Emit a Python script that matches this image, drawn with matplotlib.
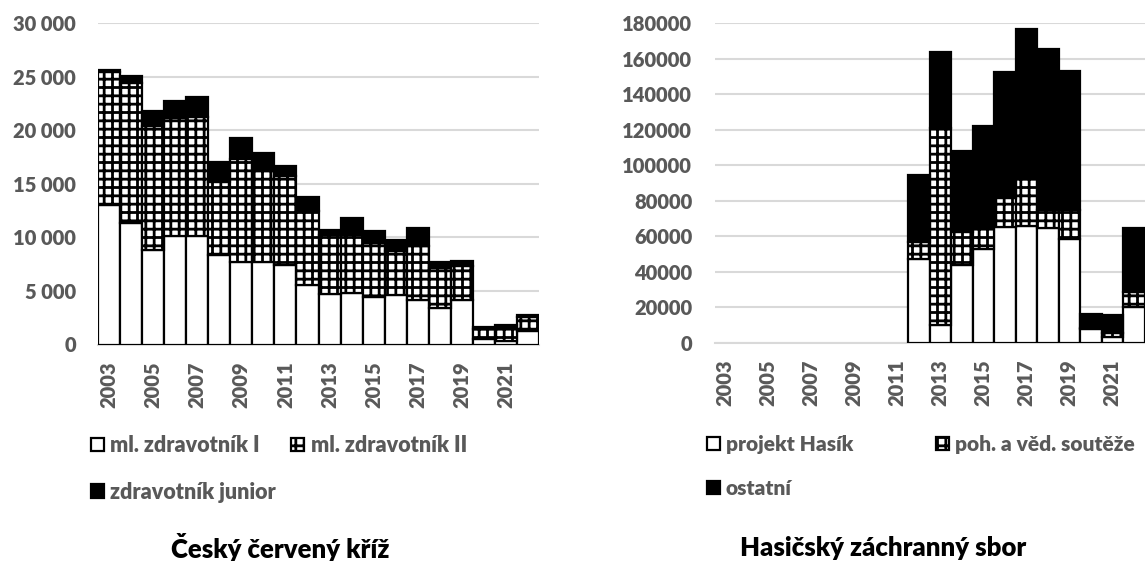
import numpy as np
import matplotlib
matplotlib.use('Agg')
import matplotlib.pyplot as plt
from matplotlib.patches import Patch
from matplotlib.ticker import FuncFormatter

plt.rcParams['font.family'] = ['Lato', 'DejaVu Sans']
plt.rcParams['font.weight'] = 'heavy'
plt.rcParams['hatch.linewidth'] = 2.0
plt.rcParams['hatch.color'] = 'black'

years = list(range(2003, 2023))

# Cesky cerveny kriz
ml_zdrav_1 = [13000, 11300, 8800, 10150, 10100, 8400, 7700, 7700, 7400, 5550,
              4700, 4850, 4450, 4600, 4150, 3400, 4150, 550, 350, 1250]
ml_zdrav_2 = [12400, 13100, 11600, 10950, 11150, 6800, 9600, 8450, 8300, 6950,
              5500, 5350, 5000, 4150, 5050, 3700, 3200, 900, 1300, 1350]
zdrav_junior = [200, 700, 1350, 1650, 1850, 1850, 1950, 1700, 950, 1250,
                480, 1600, 1150, 1000, 1700, 600, 400, 200, 150, 150]

# Hasicsky zachranny sbor
hasik = [0, 0, 0, 0, 0, 0, 0, 0, 0, 47000,
         10000, 44000, 52700, 65000, 66000, 64500, 58500, 7800, 3100, 20000]
souteze = [0, 0, 0, 0, 0, 0, 0, 0, 0, 10000,
           110800, 18600, 12400, 16400, 26100, 10300, 16300, 500, 2250, 8800]
ostatni = [0, 0, 0, 0, 0, 0, 0, 0, 0, 37500,
           43200, 45600, 57000, 71300, 84700, 90700, 78500, 7800, 10300, 36000]

GRAY = '#595959'
GRID = '#d9d9d9'
W, H = 1145, 561
LW = 1.6
WEIGHT = 'heavy'


def stacked(ax, series, ymax, step, fmt):
    x = np.arange(len(years))
    bottom = np.zeros(len(years))
    styles = [dict(color='white', hatch=None),
              dict(color='white', hatch='++'),
              dict(color='black', hatch=None)]
    for vals, st in zip(series, styles):
        vals = np.array(vals, dtype=float)
        lws = [LW if v > 0 else 0 for v in vals]
        ax.bar(x, vals, width=1.0, bottom=bottom, facecolor=st['color'],
               edgecolor='black', hatch=st['hatch'], linewidth=lws, zorder=3)
        bottom += vals
    ax.set_xlim(-0.5, len(years) - 0.5)
    ax.set_ylim(0, ymax)
    ax.set_yticks(np.arange(0, ymax + 1, step))
    ax.yaxis.set_major_formatter(FuncFormatter(fmt))
    ax.set_xticks(x[::2])
    ax.set_xticklabels([str(y) for y in years[::2]], rotation=90,
                       fontweight=WEIGHT)
    ax.grid(axis='y', color=GRID, linewidth=1.5, zorder=0)
    for s in ['top', 'right', 'left']:
        ax.spines[s].set_visible(False)
    ax.spines['bottom'].set_color(GRID)
    ax.spines['bottom'].set_linewidth(1.5)
    ax.tick_params(length=0, labelcolor=GRAY, labelsize=14.5)
    ax.tick_params(axis='y', pad=16)
    ax.tick_params(axis='x', pad=12)


fig = plt.figure(figsize=(W / 100, H / 100), dpi=100)

ax1 = fig.add_axes([98 / W, 1 - 344.5 / H, 441 / W, 321.4 / H])
stacked(ax1, [ml_zdrav_1, ml_zdrav_2, zdrav_junior], 30000, 5000,
        lambda v, p: f'{int(v):,}'.replace(',', ' '))

ax2 = fig.add_axes([714.5 / W, 1 - 342.8 / H, 430 / W, 319.5 / H])
stacked(ax2, [hasik, souteze, ostatni], 180000, 20000,
        lambda v, p: f'{int(v)}')


def legend(labels, anchor, colsp, size):
    handles = [Patch(facecolor='white', edgecolor='black', lw=LW),
               Patch(facecolor='black', edgecolor='black', lw=LW),
               Patch(facecolor='white', edgecolor='black', hatch='++', lw=LW)]
    # row-major order like the original: first, third / second
    labs = [labels[0], labels[2], labels[1]]
    leg = fig.legend(handles, labs, loc='upper left',
                     bbox_to_anchor=(anchor[0] / W, 1 - anchor[1] / H),
                     ncol=2, frameon=False, borderpad=0, borderaxespad=0,
                     handlelength=0.6, handleheight=0.6, handletextpad=0.3,
                     labelspacing=1.2, columnspacing=colsp,
                     prop=dict(weight=WEIGHT, size=size))
    for t in leg.get_texts():
        t.set_color(GRAY)


legend(['ml. zdravotník I', 'ml. zdravotník II', 'zdravotník junior'],
       (91, 435), 0.7, 15.5)
legend(['projekt Hasík', 'poh. a věd. soutěže', 'ostatní'],
       (707, 435), 4.0, 15)

fig.text(280 / W, 1 - 548 / H, 'Český červený kříž', ha='center',
         va='center', fontsize=18.5, fontweight=WEIGHT, color='black')
fig.text(883 / W, 1 - 548 / H, 'Hasičský záchranný sbor', ha='center',
         va='center', fontsize=18.5, fontweight=WEIGHT, color='black')

fig.savefig('out.png', dpi=100)
